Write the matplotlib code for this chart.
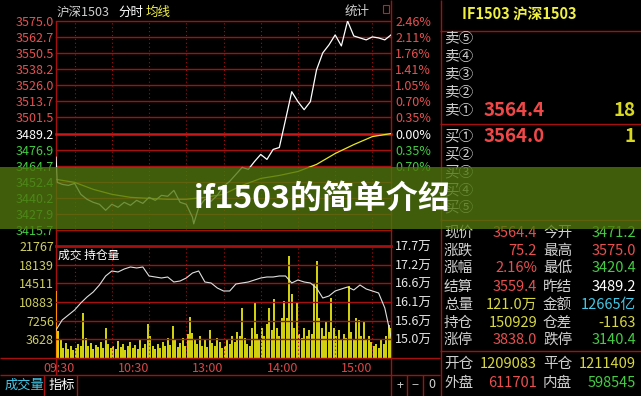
import matplotlib
matplotlib.use('Agg')
import matplotlib.pyplot as plt
from matplotlib.patches import Rectangle

W, H = 641, 396
plt.rcParams['font.family'] = ['Noto Sans CJK SC', 'DejaVu Sans']

GRID = '#a41010'
RED = '#e85050'
GREEN = '#44cc44'
YELLOW = '#d8d840'
WHITE = '#e6e6e6'
CYAN = '#44c8e8'

PREV_SETTLE = 3489.2

# price panel ticks (left) and percent labels (right, the lower ones sit under the banner)
price_labels = ['3575.0', '3562.7', '3550.5', '3538.2', '3526.0', '3513.7', '3501.5',
                '3489.2', '3476.9', '3464.7', '3452.4', '3440.2', '3427.9', '3415.7']
pct_labels = ['2.46%', '2.11%', '1.76%', '1.41%', '1.05%', '0.70%', '0.35%',
              '0.00%', '0.35%', '0.70%']

# minutes since 09:15, lunch break removed (270 trading minutes)
price_min = [0, 1, 5, 10, 15, 20, 25, 30, 35, 40, 45, 50, 55, 60, 65, 70, 75, 80, 85, 90,
             95, 100, 105, 110, 111, 115, 120, 125, 130, 135, 140, 145, 150, 155, 160, 165,
             170, 175, 180, 185, 190, 195, 200, 205, 210, 215, 220, 225, 230, 235, 240,
             245, 250, 255, 260, 265, 270]
price = [3471.2, 3452.0, 3450.5, 3449.7, 3451.2, 3442.9, 3439.1, 3436.8, 3435.3, 3430.7,
         3435.3, 3433.0, 3436.8, 3434.5, 3438.3, 3436.0, 3440.6, 3438.3, 3442.1, 3441.4,
         3445.9, 3436.8, 3435.3, 3425.4, 3420.4, 3433.0, 3439.1, 3437.6, 3442.1, 3449.0,
         3452.8, 3458.1, 3463.4, 3461.9, 3467.9, 3473.3, 3469.5, 3477.1, 3478.6, 3499.8,
         3521.1, 3513.5, 3507.4, 3513.5, 3537.8, 3550.7, 3556.8, 3564.4, 3556.0, 3575.0,
         3563.6, 3562.1, 3560.6, 3562.9, 3562.1, 3560.6, 3564.4]

avg_min = [0, 15, 30, 45, 60, 75, 90, 105, 120, 135, 150, 165, 180, 195, 210, 225, 240, 255, 270]
avg_price = [3454.3, 3452.0, 3446.7, 3442.9, 3440.6, 3439.8, 3439.1, 3439.1, 3440.6, 3442.9,
             3449.7, 3455.0, 3457.3, 3460.3, 3465.7, 3474.0, 3480.8, 3486.9, 3489.2]

# volume panel
vol_ticks = [3628, 7256, 10883, 14511, 18139, 21767]
vol_min = list(range(0, 271, 2))
volume = [13020, 5250, 3500, 1940, 2910, 1750, 2330, 1550, 1940, 2720,
          2330, 8740, 3890, 2330, 2910, 1750, 2530, 2140, 3110, 1940,
          5830, 2720, 1940, 2330, 1750, 3300, 2140, 2720, 1550, 2330,
          3110, 1940, 2530, 1750, 3500, 1940, 2720, 6610, 4270, 2330,
          1750, 2720, 1940, 3110, 2330, 3890, 2530, 6220, 3500, 2140,
          2910, 3890, 2330, 4660, 7970, 4860, 3500, 2720, 4270, 2330,
          3500, 2140, 5440, 2910, 2330, 3890, 3110, 1940, 2330, 3500,
          2720, 4270, 3110, 5050, 4270, 9720, 3890, 2720, 2330, 5830,
          10690, 4660, 3500, 5830, 4270, 6610, 9720, 5440, 11460, 5830,
          4270, 7770, 11080, 7770, 19820, 12440, 5830, 10690, 4660, 3890,
          5830, 4270, 5440, 4660, 14570, 18850, 7770, 5830, 4270, 6990,
          5050, 11660, 5830, 4270, 5440, 3500, 4660, 3890, 13990, 5050,
          3500, 7770, 7380, 4270, 6990, 3500, 4270, 3110, 2330, 2720,
          1940, 3500, 2720, 4270, 6410, 5830]

# open interest (持仓量)
oi_ticks = [150150, 155600, 161050, 166500, 171950, 177400]
oi_labels = ['15.0万', '15.6万', '16.1万', '16.6万', '17.2万', '17.7万']
oi_min = list(range(0, 271, 5))
open_interest = [152876, 155796, 157256, 158716, 160760, 162512, 163972, 166016, 168644, 170104,
                 169812, 170688, 171272, 170980, 171272, 168644, 168352, 168060, 168352, 166892,
                 167184, 168060, 169520, 170104, 166892, 166600, 165140, 164264, 164264, 166308,
                 166600, 166892, 167476, 168060, 168352, 168352, 168644, 168644, 166600, 167476,
                 166892, 166600, 165140, 162220, 162804, 164264, 164848, 165432, 164556, 166016,
                 164848, 164264, 163680, 159300, 150929]

time_ticks = [15, 75, 135, 195, 255]
time_labels = ['09:30', '10:30', '13:00', '14:00', '15:00']

# order book / quote panel
book_labels = ['卖⑤', '卖④', '卖③', '卖②', '卖①', '买①', '买②', '买③', '买④', '买⑤']
book_prices = ['', '', '', '', '3564.4', '3564.0', '', '', '', '']
book_vols = ['', '', '', '', '18', '1', '', '', '', '']

quote_left = ['现价', '涨跌', '涨幅', '结算', '总量', '持仓', '涨停']
quote_left_val = ['3564.4', '75.2', '2.16%', '3559.4', '121.0万', '150929', '3838.0']
quote_left_col = [RED, RED, RED, RED, YELLOW, YELLOW, RED]
quote_right = ['今开', '最高', '最低', '昨结', '金额', '仓差', '跌停']
quote_right_val = ['3471.2', '3575.0', '3420.4', '3489.2', '12665亿', '-1163', '3140.4']
quote_right_col = [GREEN, RED, GREEN, 'white', CYAN, YELLOW, GREEN]

flow_left = ['开仓', '外盘']
flow_left_val = ['1209083', '611701']
flow_left_col = [YELLOW, RED]
flow_right = ['平仓', '内盘']
flow_right_val = ['1211409', '598545']
flow_right_col = [YELLOW, GREEN]


def frac(x0, y0, x1, y1):
    return [x0 / W, 1 - y1 / H, (x1 - x0) / W, (y1 - y0) / H]


def hide_spines(ax):
    for s in ax.spines.values():
        s.set_visible(False)


def main():
    fig = plt.figure(figsize=(W / 100, H / 100), dpi=100, facecolor='black')

    base = fig.add_axes([0, 0, 1, 1])
    base.set_xlim(0, W)
    base.set_ylim(H, 0)
    base.axis('off')

    # ---- price panel
    ticks = [float(t) for t in price_labels]
    ax = fig.add_axes(frac(56, 21, 391, 230))
    ax.set_facecolor('none')
    hide_spines(ax)
    ax.set_xlim(0, 270)
    ax.set_ylim(ticks[-1], ticks[0])
    ax.set_xticks([])
    ax.set_yticks(ticks)
    ax.set_yticklabels(price_labels)
    ax.tick_params(axis='y', length=0, pad=1.5, labelsize=9)
    for lab, t in zip(ax.get_yticklabels(), ticks):
        lab.set_color(RED if t > PREV_SETTLE else ('white' if t == PREV_SETTLE else GREEN))
    for t in ticks:
        if t == PREV_SETTLE:
            ax.axhline(t, color='#c81818', lw=1.8, clip_on=False)
        else:
            ax.axhline(t, color=GRID, lw=1.0, clip_on=False)
    for m in range(15, 270, 30):
        ax.axvline(m, color=GRID, lw=0.8, ls=(0, (1, 2.5)))
    ax.plot(avg_min, avg_price, color='#e8e820', lw=0.9)
    ax.plot(price_min, price, color='white', lw=0.9)

    ax2 = ax.twinx()
    hide_spines(ax2)
    ax2.set_ylim(ax.get_ylim())
    ax2.set_yticks(ticks[:len(pct_labels)])
    ax2.set_yticklabels(pct_labels)
    ax2.tick_params(axis='y', length=0, pad=3, labelsize=9)
    for lab, t in zip(ax2.get_yticklabels(), ticks):
        lab.set_color(RED if t > PREV_SETTLE else ('white' if t == PREV_SETTLE else GREEN))

    # ---- volume panel
    vax = fig.add_axes(frac(56, 246, 391, 358))
    vax.set_facecolor('none')
    hide_spines(vax)
    vax.set_xlim(0, 270)
    vax.set_ylim(0, vol_ticks[-1])
    colors = ['#ff8c00'] + ['#d0d010'] * (len(volume) - 1)
    vax.bar(vol_min, volume, width=1.6, color=colors, linewidth=0)
    vax.set_yticks(vol_ticks)
    vax.set_yticklabels([str(v) for v in vol_ticks])
    vax.tick_params(axis='y', length=0, pad=1.5, labelsize=9, labelcolor='#d0d060')
    for v in [0] + vol_ticks:
        vax.axhline(v, color=GRID, lw=2.0 if v == vol_ticks[-1] else 1.0, clip_on=False)
    for m in range(15, 270, 30):
        vax.axvline(m, color=GRID, lw=0.8, ls=(0, (1, 2.5)))
    vax.set_xticks(time_ticks)
    vax.set_xticklabels(time_labels)
    vax.tick_params(axis='x', length=0, pad=3, labelsize=9, labelcolor='#d84848')
    for lab in vax.get_xticklabels():
        lab.set_ha('right')

    oax = vax.twinx()
    hide_spines(oax)
    oax.set_ylim(144700, 177400)
    oax.plot(oi_min, open_interest, color='#e0e0e0', lw=0.8)
    oax.set_yticks(oi_ticks)
    oax.set_yticklabels(oi_labels)
    oax.tick_params(axis='y', length=0, pad=3, labelsize=9, labelcolor=WHITE)

    # ---- frame lines
    def line(xs, ys, lw=1.0, c=GRID):
        base.plot(xs, ys, color=c, lw=lw, solid_capstyle='butt')

    line([56, 56], [21, 375])
    line([391, 391], [0, 396])
    line([440.5, 440.5], [0, 396])
    line([0, 440], [358, 358])
    line([0, 440], [375, 375])
    line([44, 44], [375, 396])
    line([77, 77], [375, 396])
    line([407, 407], [375, 396])
    line([423, 423], [375, 396])
    for y in [31, 124, 220, 351]:
        line([440, 641], [y, y])

    # ---- header texts
    base.text(57, 12, '沪深1503', color='#d0d0d0', fontsize=9, va='center')
    base.text(118, 12, '分时', color='white', fontsize=9, va='center')
    base.text(146, 12, '均线', color='#f0f040', fontsize=9, va='center')
    base.text(345, 11, '统计', color='#d0d0d0', fontsize=9, va='center')
    base.add_patch(Rectangle((382.5, 4.5), 6, 8, fill=False, edgecolor='#c82020', lw=0.8))
    base.text(58, 255, '成交 持仓量', color='white', fontsize=8.5, va='center')

    # ---- right panel
    base.text(462, 15, 'IF1503 沪深1503', color='#f0f040', fontsize=10.5,
              weight='bold', va='center')
    book_y = [39, 57, 75, 93, 111, 136, 154, 172, 190, 207]
    for y, lab, p, v in zip(book_y, book_labels, book_prices, book_vols):
        base.text(444, y, lab, color='#d0d0d0', fontsize=10.5, va='center')
        if p:
            base.text(545, y, p, color='#f04848', fontsize=13.5, weight='bold',
                      ha='right', va='center')
            base.text(636, y, v, color='#d8d820', fontsize=13.5, weight='bold',
                      ha='right', va='center')

    quote_y = [233, 251, 268, 287, 305, 323, 340]
    for i, y in enumerate(quote_y):
        base.text(444, y, quote_left[i], color='#d0d0d0', fontsize=10.5, va='center')
        base.text(537, y, quote_left_val[i], color=quote_left_col[i], fontsize=10.5,
                  ha='right', va='center')
        base.text(543, y, quote_right[i], color='#d0d0d0', fontsize=10.5, va='center')
        base.text(636, y, quote_right_val[i], color=quote_right_col[i], fontsize=10.5,
                  ha='right', va='center')

    flow_y = [364, 383]
    for i, y in enumerate(flow_y):
        base.text(444, y, flow_left[i], color='#d0d0d0', fontsize=10.5, va='center')
        base.text(537, y, flow_left_val[i], color=flow_left_col[i], fontsize=10.5,
                  ha='right', va='center')
        base.text(543, y, flow_right[i], color='#d0d0d0', fontsize=10.5, va='center')
        base.text(636, y, flow_right_val[i], color=flow_right_col[i], fontsize=10.5,
                  ha='right', va='center')

    # ---- bottom tabs
    base.text(5, 385, '成交量', color=CYAN, fontsize=9.5, va='center')
    base.text(49, 385, '指标', color='white', fontsize=9.5, va='center')
    for x, s in zip([400, 415, 432], ['+', '−', '0']):
        base.text(x, 385, s, color='#d0d0d0', fontsize=9, ha='center', va='center')

    # ---- banner overlay
    ov = fig.add_axes([0, 0, 1, 1])
    ov.set_xlim(0, W)
    ov.set_ylim(H, 0)
    ov.axis('off')
    ov.set_zorder(10)
    ov.add_patch(Rectangle((0, 166.5), W, 62, facecolor=(0.31, 0.46, 0.05),
                           alpha=0.8, linewidth=0))
    ov.text(322, 199, 'if1503的简单介绍', color='white', fontsize=23, weight='bold',
            ha='center', va='center')

    fig.savefig('out.png', dpi=100, facecolor='black')
    plt.close()


if __name__ == "__main__":
    main()
